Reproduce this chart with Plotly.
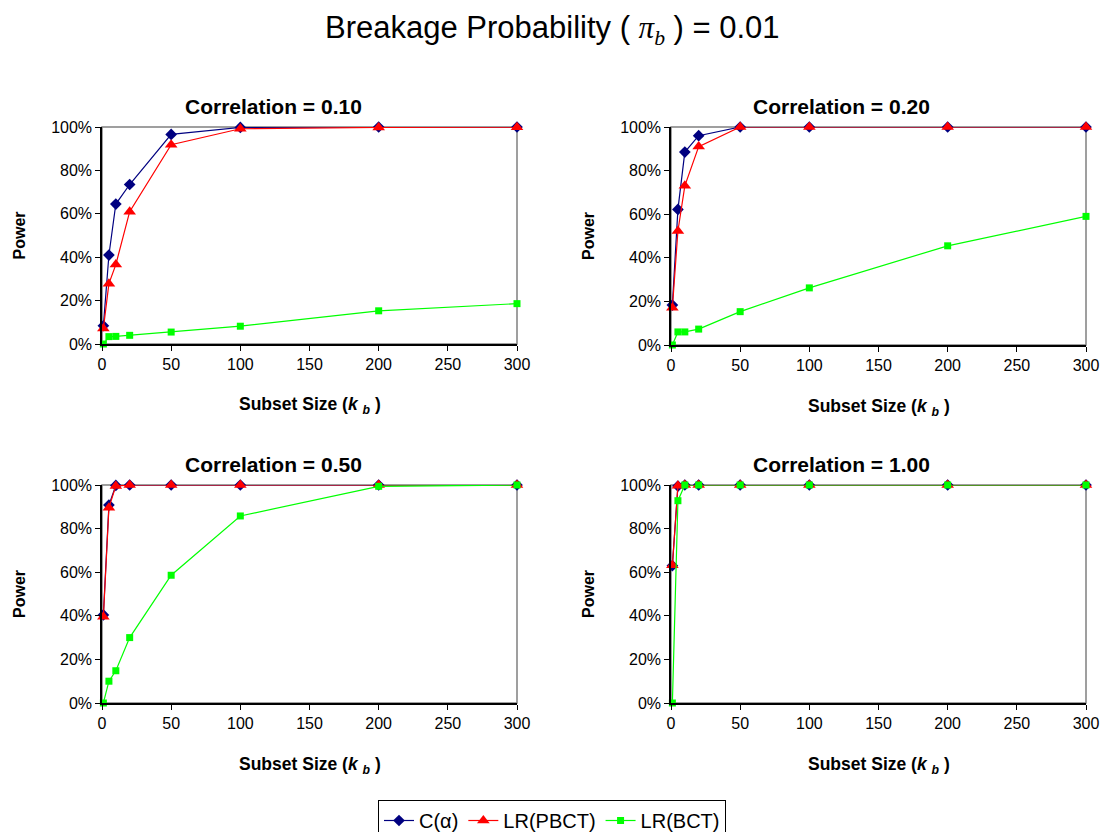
import plotly.graph_objects as go

k_sizes = [1, 5, 10, 20, 50, 100, 200, 300]
correlations = ["0.10", "0.20", "0.50", "1.00"]

# Power (%) per correlation panel
c_alpha = {
    "0.10": [8.4, 41, 64.5, 73.5, 96.6, 99.8, 100, 100],
    "0.20": [18.3, 62.2, 88.5, 96, 100, 100, 100, 100],
    "0.50": [40.4, 90.8, 99.8, 100, 100, 100, 100, 100],
    "1.00": [63, 99.5, 100, 100, 100, 100, 100, 100],
}
lr_pbct = {
    "0.10": [7.2, 27.8, 36.6, 61, 91.8, 99.2, 99.8, 99.9],
    "0.20": [17.1, 52.3, 73, 91, 100, 100, 100, 100],
    "0.50": [39.6, 89.6, 99.5, 100, 100, 100, 100, 100],
    "1.00": [63.2, 99.6, 100, 100, 100, 100, 100, 100],
}
lr_bct = {
    "0.10": [0, 3.4, 3.5, 4, 5.5, 8.2, 15.3, 18.6],
    "0.20": [0, 6, 6, 7.3, 15.3, 26.2, 45.5, 59],
    "0.50": [0, 10, 14.8, 30, 58.6, 85.8, 99.4, 100],
    "1.00": [0, 92.8, 100, 100, 100, 100, 100, 100],
}
y_ticks = [0, 20, 40, 60, 80, 100]
y_tick_labels = ["0%", "20%", "40%", "60%", "80%", "100%"]
x_ticks = [0, 50, 100, 150, 200, 250, 300]

series = [
    ("C(α)", c_alpha, "#000080", "diamond", 9),
    ("LR(PBCT)", lr_pbct, "#FF0000", "triangle-up", 11),
    ("LR(BCT)", lr_bct, "#00FF00", "square", 7),
]

W, H = 1104, 832
# plot-area pixel boxes (left, right, top, bottom)
boxes = [(102, 517, 127, 344), (671, 1086, 127, 345),
         (102, 517, 485, 703), (671, 1086, 485, 703)]
title_cx = [273, 842, 273, 842]

fig = go.Figure()
layout = dict(
    width=W, height=H, margin=dict(l=0, r=0, t=0, b=0, autoexpand=False),
    paper_bgcolor="white", plot_bgcolor="white",
    font=dict(family="Liberation Sans, Arial", color="black", size=16),
    showlegend=True,
    legend=dict(orientation="h", x=0.5, xanchor="center", y=(H - 800) / H, yanchor="top",
                bordercolor="black", borderwidth=1, font=dict(size=20),
                itemwidth=30, tracegroupgap=0, bgcolor="white", maxheight=60),
)
annotations = []
shapes = []

for i, (corr, box) in enumerate(zip(correlations, boxes)):
    l, r, t, b = box
    xa = "xaxis" if i == 0 else f"xaxis{i+1}"
    ya = "yaxis" if i == 0 else f"yaxis{i+1}"
    xr = "x" if i == 0 else f"x{i+1}"
    yr = "y" if i == 0 else f"y{i+1}"
    layout[xa] = dict(domain=[l / W, r / W], anchor=yr, range=[0, 300],
                      tickvals=x_ticks, ticks="outside", ticklen=5, tickcolor="black",
                      showline=True, linecolor="black", linewidth=1.5,
                      showgrid=False, zeroline=False, tickfont=dict(size=16))
    layout[ya] = dict(domain=[1 - b / H, 1 - t / H], anchor=xr, range=[0, 100],
                      tickvals=y_ticks, ticktext=y_tick_labels, ticks="outside",
                      ticklen=5, tickcolor="black", showline=True, linecolor="black",
                      linewidth=1.5, showgrid=False, zeroline=False,
                      tickfont=dict(size=16))
    shapes.append(dict(type="rect", xref=f"{xr} domain", yref=f"{yr} domain",
                       x0=0, x1=1, y0=0, y1=1, line=dict(color="#808080", width=1.5),
                       layer="below"))
    for name, data, color, sym, sz in series:
        fig.add_trace(go.Scatter(
            x=k_sizes, y=data[corr], mode="lines+markers", name=name,
            line=dict(color=color, width=1.2),
            marker=dict(symbol=sym, size=sz, color=color, line=dict(width=0)),
            xaxis=xr, yaxis=yr, showlegend=(i == 0), cliponaxis=False))
    cx = (l + r) / 2 / W
    annotations.append(dict(text=f"<b>Correlation = {corr}</b>", x=title_cx[i] / W,
                            y=1 - (t - 21) / H,
                            xref="paper", yref="paper", showarrow=False,
                            font=dict(size=21), xanchor="center", yanchor="middle"))
    annotations.append(dict(
        text="<b>Subset Size (<i>k</i> <sub><i>b</i></sub> )</b>",
        x=cx, y=1 - (b + 62) / H, xref="paper", yref="paper", showarrow=False,
        font=dict(size=17.5), xanchor="center", yanchor="middle"))
    annotations.append(dict(text="<b>Power</b>", x=(l - 83) / W, y=1 - (t + b) / 2 / H,
                            xref="paper", yref="paper", showarrow=False, textangle=-90,
                            font=dict(size=16), xanchor="center", yanchor="middle"))

annotations.append(dict(
    text="Breakage Probability ( <i><span style='font-family:Liberation Serif, Times New Roman'>π</span><sub><span style='font-family:Liberation Serif, Times New Roman'>b</span></sub></i> ) = 0.01",
    x=0.5, y=1 - 30 / H, xref="paper", yref="paper", showarrow=False,
    font=dict(size=31), xanchor="center", yanchor="middle"))

layout["annotations"] = annotations
layout["shapes"] = shapes
fig.update_layout(**layout)
fig.write_html("out.html")
